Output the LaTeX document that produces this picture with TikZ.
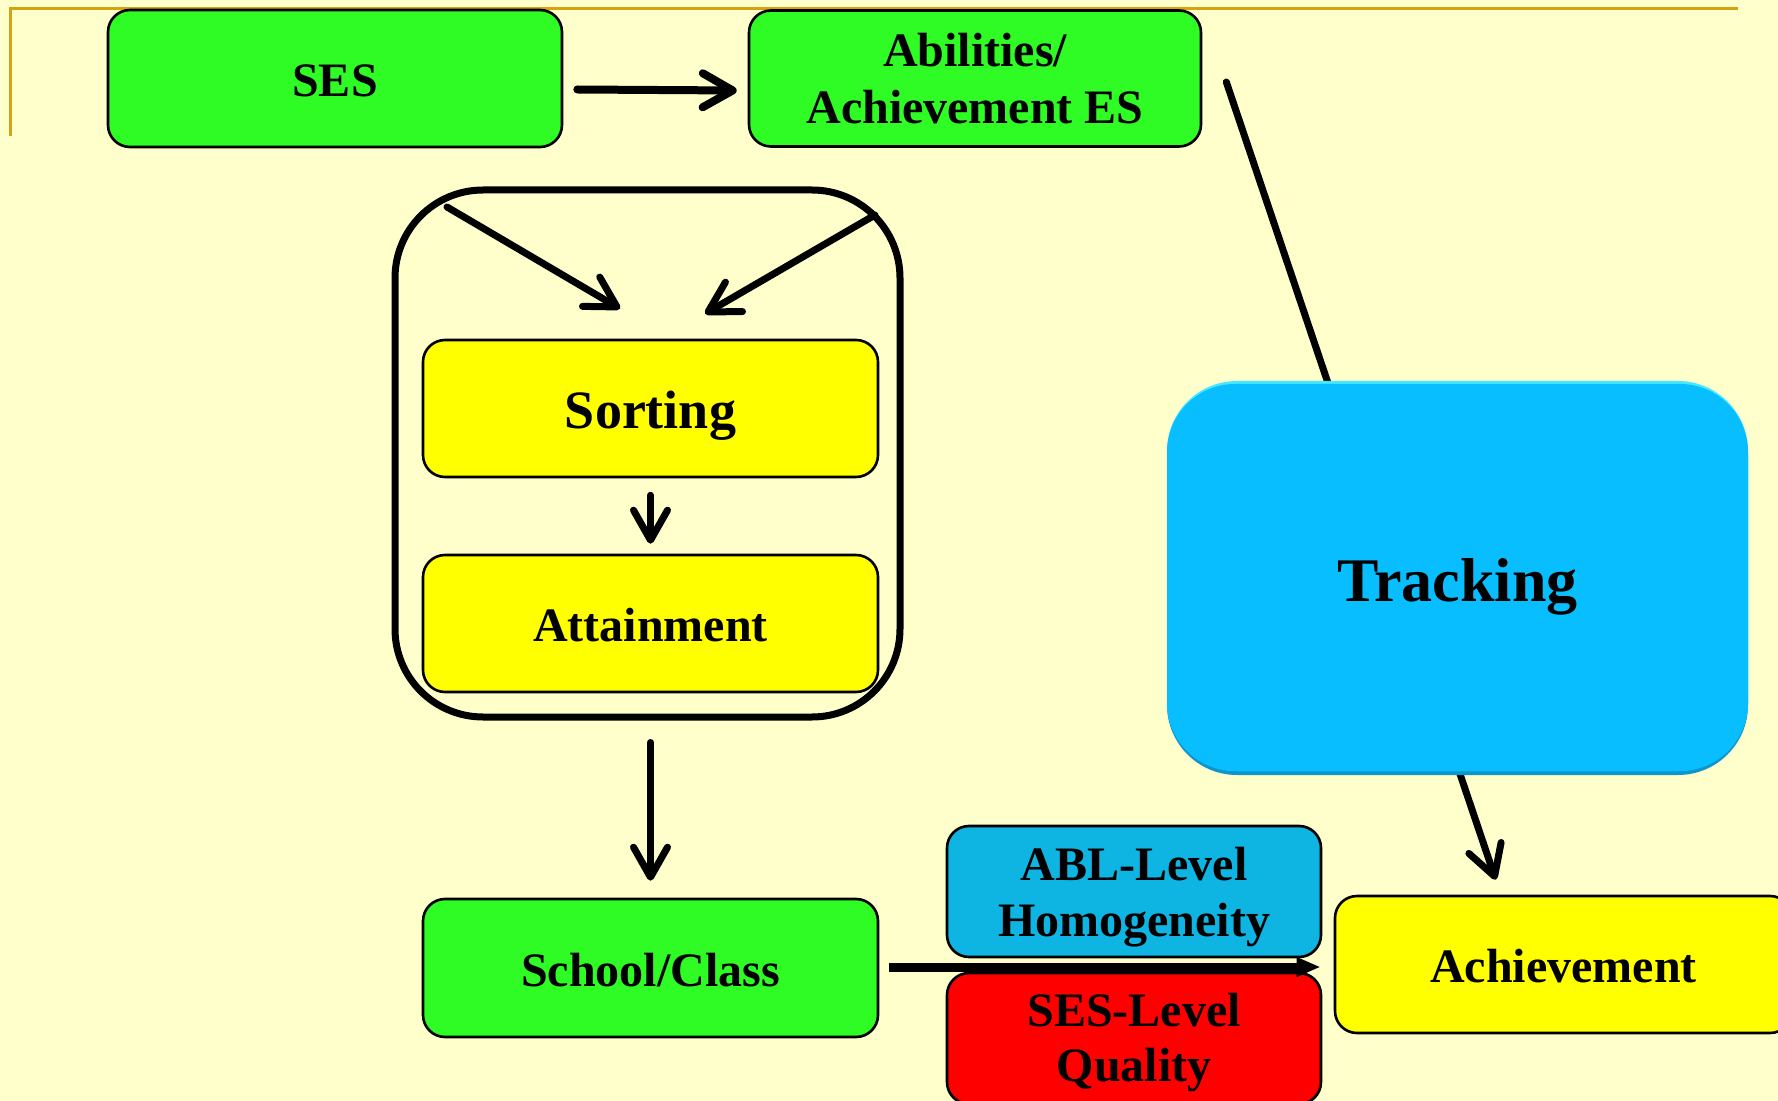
\documentclass[tikz,border=0pt]{standalone}
\usepackage{fontspec}
\setmainfont{Liberation Serif}
\usetikzlibrary{arrows.meta,calc}

\definecolor{paper}{RGB}{255,255,204}
\definecolor{rulegold}{RGB}{214,162,18}
\definecolor{boxgreen}{RGB}{46,252,36}
\definecolor{boxyellow}{RGB}{255,255,0}
\definecolor{ablblue}{RGB}{14,180,226}
\definecolor{boxred}{RGB}{255,0,0}
\definecolor{trackblue}{RGB}{8,190,254}
\definecolor{tracklight}{RGB}{70,232,255}
\definecolor{trackshade}{RGB}{12,150,205}

\begin{document}
\begin{tikzpicture}[x=0.5pt,y=-0.5pt,
  box/.style={draw=black, line width=1.3pt, rounded corners=11pt, inner sep=0pt,
    align=center, font=\bfseries\fontsize{24}{28.5}\selectfont},
  oneline/.style={text height=18.2pt, text depth=0pt},
  conn/.style={line width=3.5pt, line cap=round,
    -{Straight Barb[length=15pt,width=17pt,round]}},
  flowconn/.style={line width=4.5pt, -{Triangle[length=12pt,width=9pt]}}
]
% page and frame rule
\useasboundingbox (0,0) rectangle (1778,1101);
\clip (0,0) rectangle (1778,1101);
\fill[paper] (0,0) rectangle (1778,1101);
\draw[rulegold, line width=1.5pt] (10,136) -- (10,8.5) -- (1738,8.5);

% top row
\node[box, fill=boxgreen, oneline, minimum width=227pt, minimum height=68.5pt]
  (ses) at (335,78.5) {SES};
\node[box, fill=boxgreen, minimum width=226pt, minimum height=68pt]
  (abil) at (975,78.5) {Abilities/\\Achievement ES};

% sorting / attainment group
\node[draw=black, line width=3.5pt, rounded corners=44pt, inner sep=0pt,
  minimum width=252.5pt, minimum height=263.5pt] (cont) at (647.5,453.5) {};
\node[box, fill=boxyellow, font=\bfseries\fontsize{27}{32}\selectfont,
  text height=20.2pt, text depth=0pt, minimum width=227.5pt, minimum height=68.5pt]
  (sort) at (650.5,408.5) {Sorting};
\node[box, fill=boxyellow, oneline, minimum width=227.5pt, minimum height=68.5pt]
  (att) at (650.5,623.5) {Attainment};

% lower row
\node[box, fill=boxgreen, oneline, minimum width=227.5pt, minimum height=69pt]
  (school) at (650.5,968) {School/Class};
\node[box, fill=ablblue, font=\bfseries\fontsize{24}{28}\selectfont,
  minimum width=187pt, minimum height=65.5pt]
  (abl) at (1134,891.5) {\rule{0pt}{22.5pt}ABL-Level\\Homogeneity};
\node[box, fill=boxred, font=\bfseries\fontsize{24}{27.5}\selectfont,
  minimum width=187pt, minimum height=65.5pt]
  (sesq) at (1134,1038.5) {\rule{0pt}{21pt}SES-Level\\Quality};
\node[box, fill=boxyellow, oneline, minimum width=228.5pt, minimum height=68.5pt]
  (achv) at (1563.5,964.5) {Achievement};

% long link from abilities to achievement, passing behind the tracking box
\coordinate (abOut) at ($(abil.east)+(24,3.5)$);
\coordinate (achIn) at ($(achv.north west)+(162,-15)$);
\draw[conn] (abOut) -- (achIn);

% tracking box with a soft bevel
\fill[trackshade, rounded corners=35pt] (1167,386) rectangle (1748,775);
\fill[tracklight, rounded corners=35pt] (1167,381) rectangle (1748,771);
\node[fill=trackblue, rounded corners=34pt, inner sep=0pt,
  minimum width=290.5pt, minimum height=193.5pt,
  font=\bfseries\fontsize{31}{36}\selectfont, text height=23.9pt, text depth=0pt]
  (track) at (1457.5,577.5) {Tracking};

% connectors
\draw[conn, line width=4pt] ($(ses.east)+(14,11)$) -- ($(abil.west)+(-11,12)$);
\coordinate (dlA) at (447,207);
\coordinate (drA) at (875,215);
\draw[conn] (dlA) -- ($(sort.north)+(-30.5,-30)$);
\draw[conn] (drA) -- ($(sort.north)+(54.5,-25)$);
\draw[conn, shorten <=8.5pt, shorten >=5pt] (sort.south) -- (att.north);
\draw[conn, shorten <=11pt, shorten >=8.5pt] (school.north |- cont.south) -- (school.north);
\draw[flowconn] ($(school.east)+(10,-1)$) -- ($(achv.west)+(-13,2.5)$);
\end{tikzpicture}
\end{document}
